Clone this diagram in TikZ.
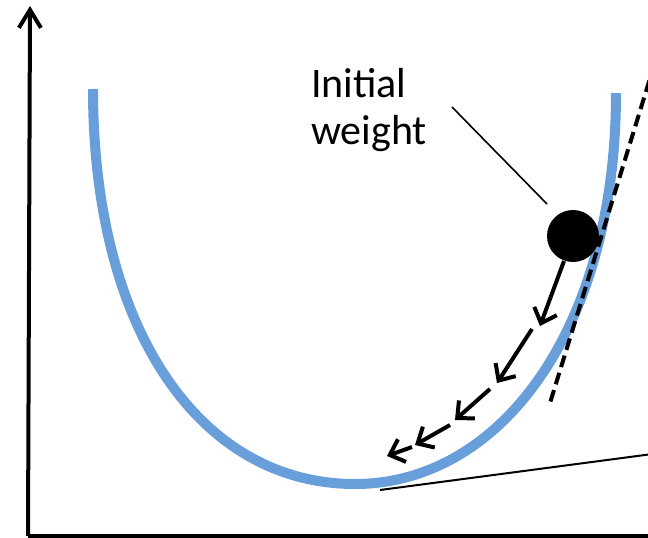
\documentclass[tikz,border=0pt]{standalone}
\usepackage{fontspec}
\setmainfont{Carlito}
\usetikzlibrary{arrows.meta}
\definecolor{curveblue}{RGB}{104,158,218}
\begin{document}
\begin{tikzpicture}[x=1pt,y=-1pt,
  axis/.style={line width=4pt},
  steparrow/.style={line width=4pt,-{Straight Barb[length=13pt,width=24pt,line width=4pt]}},
  leader/.style={line width=1.6pt}]
\useasboundingbox (0,0) rectangle (648,538);
% axes
\coordinate (origin) at (30,536);
\coordinate (ytop) at (30,6);
\coordinate (xend) at (660,536);
\draw[axis,-{Straight Barb[length=18pt,width=22pt,line width=4pt]}] (28,536) -- (ytop);
\draw[axis] (28,536) -- (xend);
% loss curve
\draw[curveblue,line width=10pt] (93,89) .. controls (93,330) and (200,484) .. (355,484)
  .. controls (500,484) and (616,330) .. (616,93);
% tangent lines
\coordinate (tA) at (660,46);
\coordinate (tB) at (550,403);
\draw[line width=4pt,dash pattern=on 12pt off 6pt] (tA) -- (tB);
\coordinate (bA) at (380,490);
\coordinate (bB) at (660,453);
\draw[line width=2pt] (bA) -- (bB);
% label
\node[anchor=base west,inner sep=0pt,align=left,font=\fontsize{42}{47}\selectfont] (lbl) at (311,144) {Initial\\weight};
\coordinate (lA) at (452,107);
\coordinate (lB) at (547,204);
\draw[leader] (lA) -- (lB);
% ball
\node[circle,fill=black,minimum size=52pt,inner sep=0pt] (ball) at (573,236) {};
% steps
\coordinate (s0) at (564,261);
\coordinate (p1) at (540,326);
\coordinate (s1) at (532,329);
\coordinate (p2) at (497,383);
\coordinate (s2) at (490,389);
\coordinate (p3) at (455,420);
\coordinate (s3) at (450,425);
\coordinate (p4) at (415,445);
\coordinate (s4) at (412,447);
\coordinate (p5) at (387,456);
\draw[steparrow] (s0) -- (p1);
\draw[steparrow] (s1) -- (p2);
\draw[steparrow] (s2) -- (p3);
\draw[steparrow] (s3) -- (p4);
\draw[steparrow] (s4) -- (p5);
\end{tikzpicture}
\end{document}
